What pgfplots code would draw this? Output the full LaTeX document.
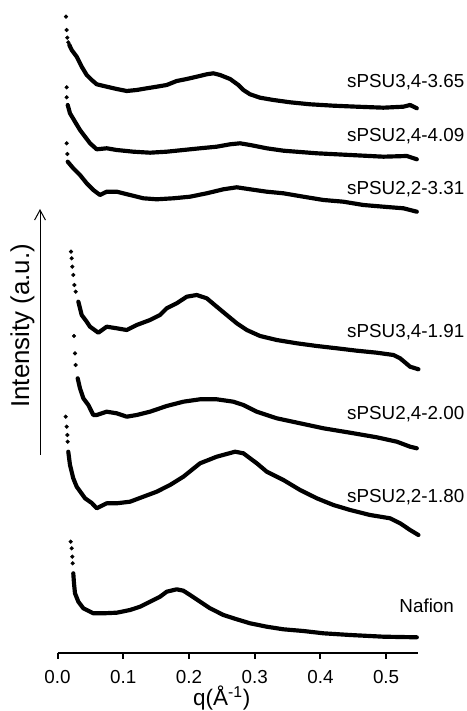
\documentclass[border=0pt]{standalone}
\usepackage{fontspec}
\setmainfont{Liberation Sans}
\usepackage{pgfplots}
\pgfplotsset{compat=1.18}
\usetikzlibrary{arrows.meta}

\begin{document}
\begin{tikzpicture}[
    sparse/.style={black, only marks, mark=*, mark size=1.05pt},
    dense/.style={black, no marks, line width=2.5pt, line join=round, line cap=round},
    lab/.style={anchor=base west, inner sep=0pt, font=\fontsize{11.3}{13}\selectfont},
]
\begin{axis}[
    scale only axis,
    width=216.5pt, height=392pt,
    xmin=0, xmax=0.549,
    ymin=57.7, ymax=711,
    axis x line=bottom,
    axis y line=none,
    x axis line style={-, line width=1.2pt},
    xtick={0,0.1,0.2,0.3,0.4,0.5},
    ytick=\empty,
    tick align=outside,
    major tick length=3.4pt,
    every tick/.style={black, line width=1.2pt},
    xticklabel style={font=\fontsize{11.3}{13}\selectfont, anchor=base, inner sep=0pt},
    xticklabel shift=15pt,
    /pgf/number format/fixed,
    /pgf/number format/fixed zerofill,
    /pgf/number format/precision=1,
    /pgf/number format/assume math mode=true,
    clip=false,
]

% sPSU3,4-3.65
\addplot[sparse] coordinates {(0.0129,694.3)(0.0140,681.0)(0.0149,673.3)(0.0164,668.7)};
\addplot[dense] coordinates {
(0.0180,666.0)(0.0216,661.0)(0.0292,654.3)(0.0368,644.3)(0.0444,636.0)(0.0521,631.0)
(0.0597,626.7)(0.0749,624.3)(0.0901,622.0)(0.1053,620.0)(0.1205,621.0)(0.1358,622.7)
(0.1510,624.3)(0.1662,626.0)(0.1814,630.0)(0.1967,632.0)(0.2119,634.3)(0.2271,636.7)
(0.2371,637.7)(0.2473,636.0)(0.2626,632.0)(0.2752,626.0)(0.2828,621.0)(0.2930,616.7)
(0.3082,613.3)(0.3285,611.0)(0.3539,608.7)(0.3843,606.7)(0.4198,605.3)(0.4554,604.3)
(0.4959,603.3)(0.5263,604.3)(0.5365,606.0)(0.5467,602.7)};

% sPSU2,4-4.09
\addplot[sparse] coordinates {(0.0140,623.7)(0.0140,613.7)};
\addplot[dense] coordinates {
(0.0155,606.0)(0.0190,597.7)(0.0266,589.3)(0.0342,581.0)(0.0419,574.3)(0.0495,567.7)
(0.0597,561.7)(0.0749,562.7)(0.0901,561.0)(0.1154,559.3)(0.1408,558.3)(0.1662,559.3)
(0.1915,561.0)(0.2169,562.7)(0.2423,564.3)(0.2626,566.7)(0.2778,567.7)(0.2930,566.0)
(0.3184,562.7)(0.3437,560.3)(0.3945,557.7)(0.4452,556.0)(0.4959,554.3)(0.5315,555.0)
(0.5467,551.7)};

% sPSU2,2-3.31
\addplot[sparse] coordinates {(0.0140,567.7)(0.0149,557.0)};
\addplot[dense] coordinates {
(0.0155,549.3)(0.0240,542.7)(0.0342,536.0)(0.0444,527.7)(0.0545,521.0)(0.0647,516.0)
(0.0749,519.3)(0.0901,519.3)(0.1104,516.0)(0.1306,512.7)(0.1510,511.7)(0.1763,512.7)
(0.2017,514.3)(0.2271,517.7)(0.2524,521.7)(0.2728,523.7)(0.2930,521.7)(0.3184,519.3)
(0.3437,517.7)(0.3741,514.3)(0.4046,511.0)(0.4350,509.3)(0.4654,506.0)(0.4959,504.3)
(0.5263,502.7)(0.5467,499.3)};

% sPSU3,4-1.91
\addplot[sparse] coordinates {(0.0205,459.3)(0.0216,452.7)(0.0225,444.3)(0.0240,436.0)(0.0256,426.0)(0.0277,419.3)};
\addplot[dense] coordinates {
(0.0317,409.3)(0.0368,396.0)(0.0444,389.3)(0.0495,384.3)(0.0621,378.3)(0.0749,384.3)
(0.0901,382.7)(0.1053,381.0)(0.1205,386.0)(0.1408,391.0)(0.1560,396.0)(0.1662,402.7)
(0.1814,407.7)(0.1967,414.3)(0.2119,416.0)(0.2271,412.7)(0.2423,404.3)(0.2575,396.0)
(0.2728,387.7)(0.2880,381.0)(0.3082,375.0)(0.3336,371.0)(0.3641,367.7)(0.3945,365.0)
(0.4250,362.7)(0.4554,360.3)(0.4858,358.3)(0.5111,356.0)(0.5213,352.7)(0.5365,344.3)
(0.5492,341.7)};

% sPSU2,4-2.00
\addplot[sparse] coordinates {(0.0251,375.0)(0.0266,357.7)(0.0277,346.0)};
\addplot[dense] coordinates {
(0.0307,332.7)(0.0342,322.7)(0.0393,312.7)(0.0469,306.0)(0.0545,296.0)(0.0597,296.0)
(0.0749,299.3)(0.0901,297.7)(0.1053,294.3)(0.1205,296.0)(0.1408,299.3)(0.1662,305.0)
(0.1915,309.3)(0.2169,311.7)(0.2423,311.7)(0.2676,309.3)(0.2828,306.0)(0.3032,299.3)
(0.3336,292.7)(0.3691,287.7)(0.4046,282.7)(0.4452,278.3)(0.4858,273.7)(0.5163,269.3)
(0.5365,264.3)(0.5467,262.7)};

% sPSU2,2-1.80
\addplot[sparse] coordinates {(0.0125,294.3)(0.0140,284.3)(0.0149,276.0)(0.0155,269.3)};
\addplot[dense] coordinates {
(0.0164,259.3)(0.0190,246.0)(0.0240,232.7)(0.0292,224.3)(0.0419,212.7)(0.0521,208.0)
(0.0597,202.7)(0.0749,207.7)(0.0901,207.7)(0.1104,209.3)(0.1306,214.3)(0.1510,219.3)
(0.1712,226.0)(0.1915,234.3)(0.2169,247.7)(0.2423,254.3)(0.2702,259.3)(0.2828,257.7)
(0.3032,247.7)(0.3184,239.3)(0.3437,231.0)(0.3691,221.0)(0.3945,212.7)(0.4198,206.0)
(0.4452,201.0)(0.4756,196.0)(0.5061,192.7)(0.5213,187.7)(0.5365,181.0)(0.5492,176.0)};

% Nafion
\addplot[sparse] coordinates {(0.0201,169.3)(0.0216,162.7)(0.0225,154.3)(0.0231,147.7)};
\addplot[dense] coordinates {
(0.0240,137.7)(0.0251,127.7)(0.0266,117.7)(0.0317,109.3)(0.0393,102.7)(0.0545,97.7)
(0.0697,97.7)(0.0901,98.3)(0.1104,101.0)(0.1256,104.3)(0.1408,109.3)(0.1560,114.3)
(0.1662,119.3)(0.1814,121.7)(0.1915,120.3)(0.2017,116.0)(0.2169,109.3)(0.2321,102.7)
(0.2524,96.0)(0.2728,91.7)(0.2930,87.7)(0.3184,84.3)(0.3437,81.7)(0.3741,80.0)
(0.4046,77.7)(0.4452,76.0)(0.4959,74.3)(0.5467,73.7)};

\node[lab] at (axis cs:0.4402,623.7) {sPSU3,4-3.65};
\node[lab] at (axis cs:0.4402,569.3) {sPSU2,4-4.09};
\node[lab] at (axis cs:0.4402,516.0) {sPSU2,2-3.31};
\node[lab] at (axis cs:0.4402,373.7) {sPSU3,4-1.91};
\node[lab] at (axis cs:0.4402,291.0) {sPSU2,4-2.00};
\node[lab] at (axis cs:0.4402,208.3) {sPSU2,2-1.80};
\node[lab] at (axis cs:0.5198,98.3) {Nafion};

\node[rotate=90, inner sep=0pt, font=\fontsize{15.5}{18}\selectfont] at (axis cs:-0.0533,385.2) {Intensity (a.u.)};
\draw[line width=0.6pt, -{Straight Barb[length=6pt, width=6.5pt]}] (axis cs:-0.0266,256) -- (axis cs:-0.0266,502);
\node[inner sep=0pt, font=\fontsize{13.5}{16}\selectfont] at (axis cs:0.25,12.5) {q(Å\textsuperscript{-1})};

\path (axis cs:-0.0875,0) rectangle (axis cs:0.6218,711);
\end{axis}
\end{tikzpicture}
\end{document}
